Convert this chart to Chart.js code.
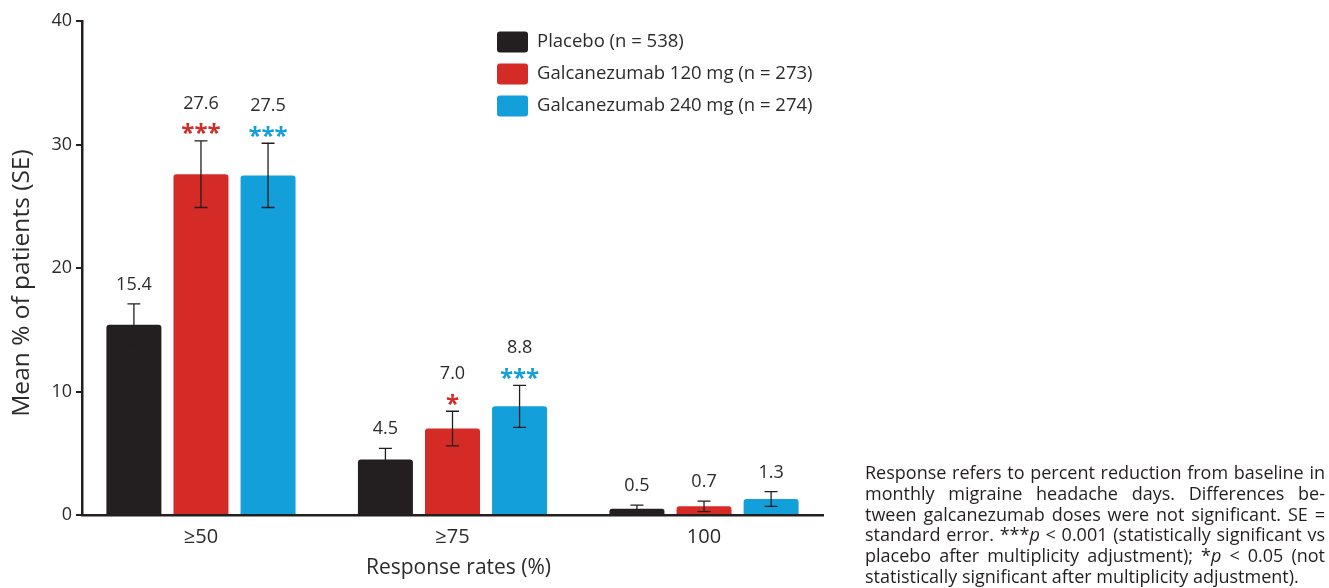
<!DOCTYPE html>
<html><head><meta charset="utf-8">
<script src="https://cdn.jsdelivr.net/npm/chart.js@4.4.1/dist/chart.umd.min.js"></script>
<style>
html,body{margin:0;padding:0;background:#fff;}
#wrap{position:relative;width:1329px;height:588px;}
#note{position:absolute;left:865px;top:462px;width:460px;font-family:"Open Sans";font-size:18px;line-height:20.8px;color:#231f20;}
#note div{text-align:justify;text-align-last:justify;white-space:nowrap;}
#note div.last{text-align:left;text-align-last:left;}
</style></head>
<body>
<div id="wrap">
<canvas id="c"></canvas>
<div id="note">
<div>Response refers to percent reduction from baseline in</div>
<div>monthly migraine headache days. Differences be-</div>
<div>tween galcanezumab doses were not significant. SE =</div>
<div>standard error. ***<i>p</i> &lt; 0.001 (statistically significant vs</div>
<div>placebo after multiplicity adjustment); *<i>p</i> &lt; 0.05 (not</div>
<div class="last">statistically significant after multiplicity adjustment).</div>
</div>
</div>
<script>
const categories = ['≥50', '≥75', '100'];
const seriesLabels = ['Placebo (n = 538)', 'Galcanezumab 120 mg (n = 273)', 'Galcanezumab 240 mg (n = 274)'];
const placebo = [15.4, 4.5, 0.5];
const galc120 = [27.6, 7.0, 0.7];
const galc240 = [27.5, 8.8, 1.3];
const placeboSE = [1.7, 0.9, 0.3];
const galc120SE = [2.7, 1.4, 0.43];
const galc240SE = [2.6, 1.7, 0.6];
const placeboSig = ['', '', ''];
const galc120Sig = ['***', '*', ''];
const galc240Sig = ['***', '***', ''];
const yTicks = [0, 10, 20, 30, 40];
const yTitle = 'Mean % of patients (SE)';
const xTitle = 'Response rates (%)';

const colors = ['#231f20', '#d52b27', '#139fda'];
const INK = '#231f20';
const TXT = '#2b2b2b';
const FONT = '"Open Sans"';

function mk(vals, i, se, sig) {
  return {
    label: seriesLabels[i],
    data: vals.map((v, k) => ({x: k, y: v})),
    se: se, sig: sig,
    backgroundColor: colors[i],
    borderWidth: 0,
    borderRadius: 3,
    categoryPercentage: 0.8,
    barPercentage: 0.82
  };
}

const overlay = {
  id: 'overlay',
  afterDraw(chart) {
    const ctx = chart.ctx, ca = chart.chartArea;
    ctx.save();
    ctx.fillStyle = TXT;
    ctx.font = '24.5px ' + FONT;
    ctx.textAlign = 'center';
    ctx.textBaseline = 'middle';
    ctx.translate(22, (ca.top + ca.bottom) / 2 + 15);
    ctx.rotate(-Math.PI / 2);
    ctx.fillText(yTitle, 0, 0);
    ctx.restore();
    ctx.save();
    ctx.fillStyle = TXT;
    ctx.font = '21px ' + FONT;
    ctx.textAlign = 'center';
    ctx.textBaseline = 'middle';
    ctx.fillText(xTitle, (ca.left + ca.right) / 2 + 6, 568);
    ctx.restore();
  },
  afterDatasetsDraw(chart) {
    const ctx = chart.ctx, ys = chart.scales.y;
    ctx.save();
    chart.data.datasets.forEach((ds, di) => {
      const meta = chart.getDatasetMeta(di);
      meta.data.forEach((bar, i) => {
        const v = ds.data[i].y, e = ds.se[i];
        const x = bar.x;
        const top = ys.getPixelForValue(v + e), bot = ys.getPixelForValue(Math.max(0, v - e));
        ctx.strokeStyle = INK; ctx.lineWidth = 1.3;
        ctx.beginPath();
        ctx.moveTo(x, top); ctx.lineTo(x, bot);
        ctx.moveTo(x - 6.5, top); ctx.lineTo(x + 6.5, top);
        ctx.moveTo(x - 6.5, bot); ctx.lineTo(x + 6.5, bot);
        ctx.stroke();
        let numY;
        const s = ds.sig[i];
        if (s) {
          const starY = top - 12;
          ctx.font = 'bold 24px ' + FONT;
          ctx.fillStyle = colors[di];
          ctx.textAlign = 'center';
          ctx.textBaseline = 'alphabetic';
          const m = ctx.measureText(s);
          const base = starY + (m.actualBoundingBoxAscent - m.actualBoundingBoxDescent) / 2;
          ctx.fillText(s, x, base);
          numY = starY - 25;
        } else {
          numY = top - 19;
        }
        ctx.font = '18px ' + FONT;
        ctx.fillStyle = TXT;
        ctx.textAlign = 'center';
        ctx.textBaseline = 'middle';
        ctx.fillText(v.toFixed(1), x, numY);
      });
    });
    // legend
    const lx = chart.chartArea.left + 415, ly0 = chart.chartArea.top + 21, step = 32;
    chart.data.datasets.forEach((ds, di) => {
      const cy = ly0 + di * step;
      ctx.fillStyle = colors[di];
      ctx.beginPath();
      ctx.roundRect(lx, cy - 10.5, 31, 21, 3);
      ctx.fill();
      ctx.font = '18.5px ' + FONT;
      ctx.fillStyle = TXT;
      ctx.textAlign = 'left';
      ctx.textBaseline = 'middle';
      ctx.fillText(ds.label, lx + 40, cy);
    });
    ctx.restore();
  }
};

new Chart(document.getElementById('c'), {
  type: 'bar',
  data: {
    datasets: [
      mk(placebo, 0, placeboSE, placeboSig),
      mk(galc120, 1, galc120SE, galc120Sig),
      mk(galc240, 2, galc240SE, galc240Sig)
    ]
  },
  options: {
    responsive: true,
    maintainAspectRatio: false,
    animation: false,
    devicePixelRatio: 1,
    layout: {padding: {top: 21, right: 506, left: 0, bottom: 0}},
    plugins: {legend: {display: false}, tooltip: {enabled: false}},
    scales: {
      x: {
        type: 'linear',
        offset: false,
        min: -0.473, max: 2.473,
        afterBuildTicks(scale) { scale.ticks = categories.map((c, i) => ({value: i})); },
        afterFit(scale) { scale.height = 73; },
        grid: {display: false, drawTicks: false, offset: false},
        border: {display: true, color: INK, width: 2.5},
        ticks: {
          callback: (v) => categories[v],
          autoSkip: false, maxRotation: 0,
          padding: 10,
          color: TXT,
          font: {family: FONT, size: 20}
        },
        title: {display: false}
      },
      y: {
        min: 0, max: 40,
        afterBuildTicks(scale) { scale.ticks = yTicks.map(v => ({value: v})); },
        afterFit(scale) { scale.width = 82; },
        grid: {drawOnChartArea: false, drawTicks: true, tickLength: 6, color: INK, lineWidth: 2},
        border: {display: true, color: INK, width: 2.5},
        ticks: {padding: 4, color: TXT, font: {family: FONT, size: 18}},
        title: {display: false}
      }
    }
  },
  plugins: [overlay]
});
</script>
</body></html>
